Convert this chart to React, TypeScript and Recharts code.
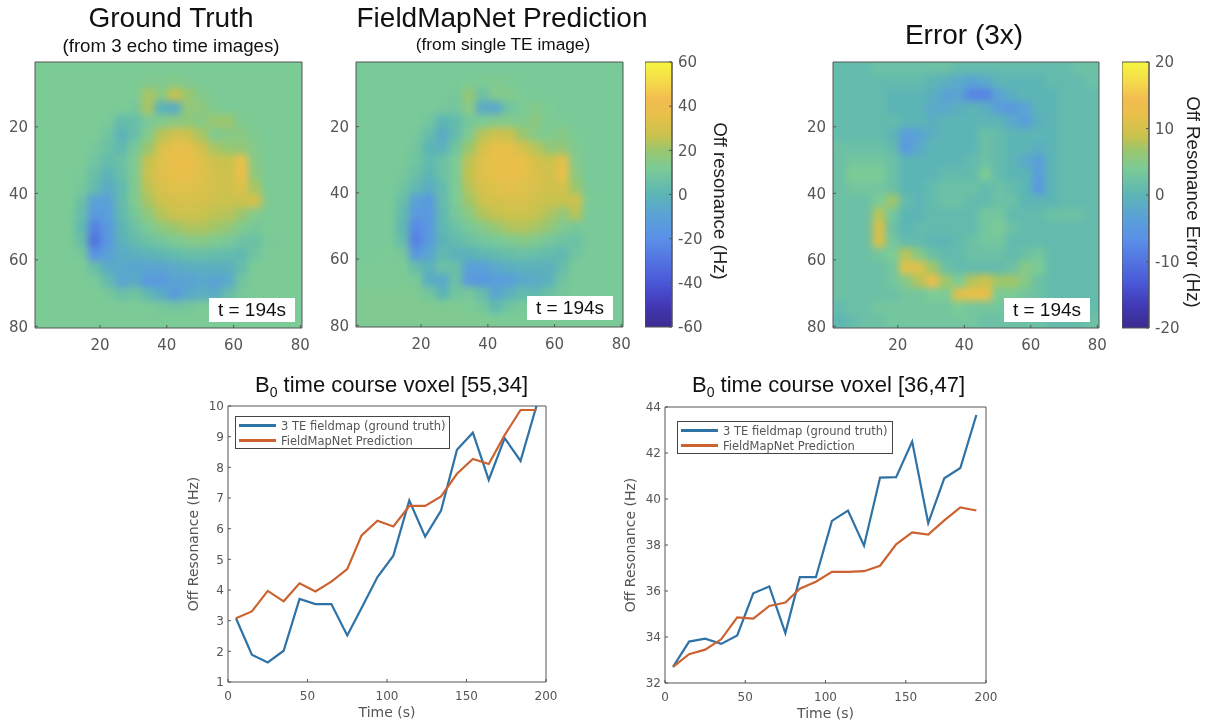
import {
  Bar,
  ComposedChart,
  Legend,
  Line,
  LineChart,
  Scatter,
  ScatterChart,
  XAxis,
  YAxis,
} from "recharts";

const BLUE = "#2f72a6";
const ORANGE = "#cb6230";
const TEXT = "#555555";
const FRAME = "#555555";

// colour scale (position 0..1 bottom to top)
const scalePositions = [0, 0.08, 0.17, 0.33, 0.42, 0.5, 0.6, 0.67, 0.72, 0.8, 0.86, 0.93, 1];
const scaleColors = ["#3a2c8e", "#4238b4", "#4a58d8", "#5a8fe8", "#5aa2d6", "#5cb5b5", "#7ccb96", "#9cc66c", "#c8c24e", "#e8c049", "#f1bc50", "#f5dc4a", "#f6f640"];

const mapTicks = [20, 40, 60, 80];

// 20x20 blocks, 4 voxels each, Hz
const groundTruth = [
  [12, 12, 12, 12, 12, 12, 12, 12, 12, 12, 12, 12, 12, 12, 12, 12, 12, 12, 12, 12],
  [12, 12, 12, 12, 12, 12, 12, 12, 13, 13, 14, 13, 12, 12, 12, 12, 12, 12, 12, 12],
  [12, 12, 12, 12, 12, 12, 12, 12, 22, 16, 26, 20, 14, 12, 12, 12, 12, 12, 12, 12],
  [12, 12, 12, 12, 12, 12, 12, 10, 22, -2, -4, 18, 17, 13, 12, 12, 12, 12, 12, 12],
  [12, 12, 12, 12, 12, 11, 3, 5, 11, 14, 16, 17, 15, 20, 20, 13, 12, 12, 12, 12],
  [12, 12, 12, 12, 12, 8, -1, 5, 14, 24, 29, 28, 22, 13, 15, 16, 13, 12, 12, 12],
  [12, 12, 12, 12, 10, 6, 2, 10, 20, 31, 36, 35, 29, 22, 19, 18, 14, 12, 12, 12],
  [12, 12, 12, 12, 8, 3, 6, 13, 26, 33, 37, 37, 33, 28, 27, 36, 15, 12, 12, 12],
  [12, 12, 12, 11, 5, -1, 5, 13, 27, 33, 36, 37, 33, 29, 28, 38, 17, 12, 12, 12],
  [12, 12, 12, 10, 3, -5, 2, 13, 25, 31, 33, 33, 32, 29, 28, 32, 22, 12, 12, 12],
  [12, 12, 12, 6, -10, -10, 3, 13, 22, 28, 30, 31, 30, 28, 27, 27, 30, 13, 12, 12],
  [12, 12, 12, 4, -15, -12, 2, 10, 17, 24, 27, 28, 27, 25, 24, 20, 14, 12, 12, 12],
  [12, 12, 12, 2, -25, -15, 0, 6, 12, 17, 20, 23, 23, 21, 18, 13, 10, 12, 12, 12],
  [12, 12, 12, 5, -30, -15, -2, 3, 6, 9, 12, 14, 15, 13, 11, 7, 6, 11, 12, 12],
  [12, 12, 12, 10, -18, -10, -5, -3, -1, 1, 3, 5, 5, 4, 3, 2, 8, 12, 12, 12],
  [12, 12, 12, 12, 5, -5, -6, -8, -8, -8, -6, -4, -3, -3, -3, 4, 12, 12, 12, 12],
  [12, 12, 12, 12, 11, 3, -8, -5, -15, -14, -9, -9, -7, -9, -6, 8, 12, 12, 12, 12],
  [12, 12, 12, 12, 12, 10, 6, 8, 2, -5, -14, -6, -3, -5, 4, 10, 12, 12, 12, 12],
  [12, 12, 12, 12, 12, 12, 12, 12, 12, 10, 9, 10, 12, 12, 12, 12, 12, 12, 12, 12],
  [12, 12, 12, 12, 12, 12, 12, 12, 12, 12, 12, 12, 12, 12, 12, 12, 12, 12, 12, 12],
];

const prediction = [
  [11, 11, 11, 11, 11, 11, 11, 11, 11, 11, 11, 11, 11, 11, 11, 11, 11, 11, 11, 11],
  [11, 11, 11, 11, 11, 11, 11, 11, 12, 12, 13, 12, 11, 11, 11, 11, 11, 11, 11, 11],
  [11, 11, 11, 11, 11, 11, 11, 10, 18, 6, 14, 14, 12, 11, 11, 11, 11, 11, 11, 11],
  [11, 11, 11, 11, 11, 11, 10, 9, 16, -5, -6, 8, 12, 14, 12, 11, 11, 11, 11, 11],
  [11, 11, 11, 11, 11, 9, 0, 3, 10, 12, 14, 14, 13, 16, 12, 12, 11, 11, 11, 11],
  [11, 11, 11, 11, 10, 4, -5, 3, 13, 24, 28, 27, 20, 14, 13, 15, 12, 11, 11, 11],
  [11, 11, 11, 11, 9, 0, -2, 8, 20, 30, 36, 35, 30, 24, 18, 18, 13, 11, 11, 11],
  [11, 11, 11, 11, 8, 2, 6, 12, 25, 33, 36, 37, 36, 30, 27, 34, 14, 11, 11, 11],
  [11, 11, 11, 10, 6, 0, 6, 12, 26, 33, 36, 37, 36, 32, 29, 36, 16, 11, 11, 11],
  [11, 11, 11, 8, 2, -4, 3, 12, 24, 31, 33, 34, 33, 31, 28, 30, 20, 11, 11, 11],
  [11, 11, 11, 5, -10, -14, 3, 12, 21, 28, 30, 31, 31, 29, 27, 26, 28, 12, 11, 11],
  [11, 11, 11, 3, -14, -15, 2, 10, 16, 23, 26, 28, 28, 26, 23, 18, 24, 11, 11, 11],
  [11, 11, 11, 1, -22, -15, 1, 6, 11, 15, 19, 23, 24, 22, 18, 13, 10, 11, 11, 11],
  [11, 11, 11, 4, -25, -14, -1, 3, 6, 9, 11, 13, 15, 13, 10, 7, 6, 11, 11, 11],
  [11, 11, 12, 10, -16, -8, 2, -2, -1, 1, 3, 5, 6, 5, 3, 2, 8, 11, 11, 11],
  [12, 12, 12, 12, 4, -2, 6, 5, -10, -10, -6, -3, -2, -2, -2, 4, 11, 11, 11, 11],
  [12, 12, 12, 12, 11, -4, -6, 6, -14, -16, -12, -12, -6, -5, -2, 8, 11, 11, 11, 11],
  [13, 13, 13, 13, 13, 9, 0, 8, 10, 4, -8, -2, 3, 2, 6, 10, 11, 11, 11, 11],
  [13, 13, 13, 13, 13, 13, 13, 13, 12, 9, 2, 8, 11, 12, 12, 12, 12, 12, 11, 11],
  [13, 13, 13, 13, 13, 13, 13, 13, 13, 13, 12, 12, 12, 12, 12, 12, 12, 12, 12, 11],
];

const errorMap = [
  [1, 1, 1, 2, 2, 2, 2, 2, 2, 1, 1, 1, 1, 1, 1, 1, 1, 1, 2, 2],
  [1, 1, 1, 1, 1, 1, 1, 0, -1, -2, -3, -2, 0, 0, 0, 0, 1, 1, 1, 2],
  [1, 1, 1, 1, 0, 0, 0, -1, -3, -3, -8, -8, -3, -1, 0, 0, 0, 1, 1, 1],
  [1, 1, 1, 1, 0, 0, 0, -2, -2, -1, 0, -1, -4, -5, -3, 0, 0, 1, 1, 1],
  [1, 1, 1, 1, 1, 0, 0, -1, 0, 0, 0, 0, 0, -2, -4, -1, 0, 1, 1, 1],
  [1, 1, 1, 1, 0, -4, -3, -1, 0, 0, 0, 2, 1, 0, 0, 0, 0, 1, 1, 1],
  [2, 2, 2, 2, 1, -5, -2, 0, 0, 0, 0, 2, 1, 0, 0, -1, 0, 1, 1, 1],
  [2, 3, 3, 3, 2, 0, 0, 0, 0, 0, 1, 2, 1, 0, -2, -4, 0, 1, 1, 1],
  [2, 4, 4, 4, 2, 0, 0, 0, 1, 1, 1, 4, 1, 0, 0, -4, 0, 1, 1, 1],
  [2, 3, 3, 3, 2, 0, 0, 1, 2, 2, 2, 1, 2, 1, 0, -5, 0, 1, 1, 1],
  [2, 2, 2, 4, 7, 1, 0, 1, 2, 2, 1, 1, 2, 2, 0, 0, 0, 1, 1, 1],
  [2, 2, 2, 8, 3, 0, 0, 1, 1, 1, 1, 3, 3, 1, 1, 1, 2, 2, 2, 1],
  [2, 2, 2, 10, 2, 0, 1, 1, 1, 1, 1, 3, 4, 2, 1, 1, 1, 1, 1, 1],
  [2, 2, 2, 10, 3, 1, 1, 0, 0, 1, 2, 3, 3, 1, 1, 1, 1, 1, 1, 1],
  [2, 2, 2, 3, 4, 8, 5, 2, 1, 1, 2, 2, 2, 1, 2, 3, 1, 1, 1, 1],
  [2, 2, 2, 2, 3, 11, 11, 7, 2, 1, 1, 1, 1, 2, 5, 4, 1, 1, 1, 1],
  [2, 2, 2, 2, 3, 5, 8, 13, 7, 4, 8, 9, 7, 7, 5, 2, 1, 1, 1, 1],
  [2, 2, 2, 2, 2, 3, 3, 4, 4, 11, 12, 12, 4, 4, 3, 2, 1, 1, 1, 1],
  [1, 2, 2, 3, 3, 3, 3, 3, 3, 4, 3, 3, 3, 2, 2, 2, 1, 1, 1, 1],
  [0, 1, 2, 2, 3, 3, 3, 3, 3, 3, 3, 2, 2, 2, 2, 2, 1, 1, 1, 2],
];

const timeSeconds = [5, 15, 25, 35, 45, 55, 65, 75, 84, 94, 104, 114, 124, 134, 144, 154, 164, 174, 184, 194];
const voxelA_truth = [3.08, 1.89, 1.64, 2.02, 3.71, 3.54, 3.54, 2.52, 3.41, 4.42, 5.12, 6.92, 5.74, 6.59, 8.57, 9.13, 7.59, 8.95, 8.21, 10];
const voxelA_pred = [3.08, 3.3, 3.97, 3.63, 4.22, 3.95, 4.27, 4.68, 5.78, 6.26, 6.07, 6.74, 6.74, 7.05, 7.79, 8.27, 8.11, 9.05, 9.87, 9.87];
const voxelB_truth = [32.7, 33.8, 33.93, 33.7, 34.07, 35.9, 36.2, 34.17, 36.6, 36.6, 39.05, 39.5, 37.97, 40.93, 40.95, 42.5, 38.95, 40.9, 41.35, 43.65];
const voxelB_pred = [32.7, 33.25, 33.45, 33.9, 34.85, 34.8, 35.35, 35.5, 36.1, 36.4, 36.83, 36.83, 36.86, 37.1, 38.03, 38.55, 38.45, 39.07, 39.63, 39.5];

const voxelATicks = [1, 2, 3, 4, 5, 6, 7, 8, 9, 10];
const voxelBTicks = [32, 34, 36, 38, 40, 42, 44];
const timeTicks = [0, 50, 100, 150, 200];

function hex(c: string) {
  return [1, 3, 5].map((i) => parseInt(c.slice(i, i + 2), 16));
}

function colorAt(t: number) {
  const p = Math.max(0, Math.min(1, t));
  let i = 0;
  while (i < scalePositions.length - 2 && p > scalePositions[i + 1]) i++;
  const f = (p - scalePositions[i]) / (scalePositions[i + 1] - scalePositions[i]);
  const a = hex(scaleColors[i]);
  const b = hex(scaleColors[i + 1]);
  return `rgb(${a.map((v, k) => Math.round(v + (b[k] - v) * f)).join(",")})`;
}

function HeatMap({ x, y, w, h, values, limit, label }: any) {
  const cells = values.flatMap((row: number[], r: number) =>
    row.map((v, c) => ({ col: c * 4 + 2.5, row: r * 4 + 2.5, v }))
  );
  const cw = (w / 80) * 4 + 1;
  const ch = (h / 80) * 4 + 1;
  const background = colorAt((values[0][19] + limit) / (2 * limit));
  return (
    <>
      <div style={{ position: "absolute", left: x, top: y, width: w, height: h, overflow: "hidden", background }}>
        <div style={{ filter: "blur(3.5px)" }}>
          <ScatterChart width={w} height={h} margin={{ top: 0, right: 0, bottom: 0, left: 0 }}>
            <XAxis hide type="number" dataKey="col" domain={[0.5, 80.5]} />
            <YAxis hide type="number" dataKey="row" domain={[0.5, 80.5]} reversed />
            <Scatter
              data={cells}
              isAnimationActive={false}
              shape={(p: any) => (
                <rect
                  x={p.cx - cw / 2}
                  y={p.cy - ch / 2}
                  width={cw}
                  height={ch}
                  fill={colorAt((p.payload.v + limit) / (2 * limit))}
                />
              )}
            />
          </ScatterChart>
        </div>
      </div>
      <div style={{ position: "absolute", left: x - 36, top: y - 10 }}>
        <ScatterChart width={w + 36 + 20} height={h + 10 + 28} margin={{ top: 9, right: 19, bottom: 0, left: 0 }}>
          <XAxis type="number" dataKey="col" domain={[0.5, 80.5]} ticks={mapTicks} height={28} interval={0} stroke={FRAME} tickSize={-3} tickMargin={14} tick={{ fontSize: 15, fill: TEXT, fontFamily: "DejaVu Sans" }} />
          <XAxis xAxisId="top" orientation="top" type="number" dataKey="col" domain={[0.5, 80.5]} ticks={mapTicks} height={1} stroke={FRAME} tickSize={-3} tick={false} />
          <YAxis type="number" dataKey="row" domain={[0.5, 80.5]} reversed ticks={mapTicks} width={36} interval={0} stroke={FRAME} tickSize={-3} tickMargin={10} tick={{ fontSize: 15, fill: TEXT, fontFamily: "DejaVu Sans" }} />
          <YAxis yAxisId="right" orientation="right" type="number" dataKey="row" domain={[0.5, 80.5]} reversed ticks={mapTicks} width={1} stroke={FRAME} tickSize={-3} tick={false} />
          <Scatter data={cells} isAnimationActive={false} shape={() => <g />} />
          <Scatter xAxisId="top" yAxisId="right" data={cells} isAnimationActive={false} shape={() => <g />} />
        </ScatterChart>
      </div>
      <div style={{ position: "absolute", left: label.x, top: label.y, width: 86, height: 24, background: "#fff", color: "#111", fontFamily: "Liberation Sans", fontSize: 19, lineHeight: "24px", textAlign: "center" }}>
        t = 194s
      </div>
    </>
  );
}

function ColorBar({ x, y, w, h, limit, ticks, id, title, titleX, titleShift }: any) {
  return (
    <>
      <div style={{ position: "absolute", left: x, top: y - 10 }}>
        <ComposedChart width={w + 40} height={h + 20} data={[{ name: "scale", range: [-limit, limit] }]} barCategoryGap={0} margin={{ top: 10, right: 0, bottom: 10, left: 0 }}>
          <defs>
            <linearGradient id={id} x1="0" y1="1" x2="0" y2="0">
              {scalePositions.map((t, i) => (
                <stop key={t} offset={t} stopColor={scaleColors[i]} />
              ))}
            </linearGradient>
          </defs>
          <XAxis hide dataKey="name" />
          <YAxis orientation="right" type="number" domain={[-limit, limit]} ticks={ticks} interval={0} width={40} stroke={FRAME} tickSize={-3} tickMargin={9} tick={{ fontSize: 15, fill: TEXT, fontFamily: "DejaVu Sans" }} />
          <Bar dataKey="range" fill={`url(#${id})`} stroke={FRAME} isAnimationActive={false} />
        </ComposedChart>
      </div>
      <div style={{ position: "absolute", left: titleX, top: y + h / 2 + titleShift, transform: "translate(-50%, -50%) rotate(90deg)", whiteSpace: "nowrap", fontFamily: "Liberation Sans", fontSize: 18.7, color: "#222" }}>
        {title}
      </div>
    </>
  );
}

function CourseLegend({ payload, width }: any) {
  const items = (payload || []).filter((item: any) => item.type !== "none");
  return (
    <div style={{ width, height: 33, boxSizing: "border-box", border: "1px solid #444", background: "#fff", padding: "1px 0 0 3px" }}>
      {items.map((item: any) => (
        <div key={item.value} style={{ display: "flex", alignItems: "center", height: 15, fontSize: 11.5, lineHeight: "14px", color: "#555", fontFamily: "DejaVu Sans", whiteSpace: "nowrap" }}>
          <span style={{ display: "inline-block", width: 37, height: 2.4, background: item.color, marginRight: 5 }} />
          {item.value}
        </div>
      ))}
    </div>
  );
}

function TimeCourse({ x, y, w, h, truth, pred, domain, ticks, title, titleX, legend }: any) {
  const data = timeSeconds.map((t, i) => ({ t, truth: truth[i], pred: pred[i] }));
  const axisTick = { fontSize: 12, fill: TEXT, fontFamily: "DejaVu Sans" };
  return (
    <>
      <div style={{ position: "absolute", left: titleX, top: 373, whiteSpace: "nowrap", fontFamily: "Liberation Sans", fontSize: 22, lineHeight: "24px", color: "#111" }}>
        B<sub style={{ fontSize: 14, lineHeight: 0 }}>0</sub> time course voxel {title}
      </div>
      <div style={{ position: "absolute", left: x - 48, top: y - 10 }}>
        <LineChart width={w + 48 + 20} height={h + 10 + 42} data={data} margin={{ top: 9, right: 19, bottom: 0, left: 0 }}>
          <XAxis
            dataKey="t"
            type="number"
            domain={[0, 200]}
            ticks={timeTicks}
            interval={0}
            height={42}
            stroke={FRAME}
            tickSize={-3}
            tickMargin={12}
            tick={axisTick}
            label={{ value: "Time (s)", position: "insideBottom", offset: 7, fontSize: 14, fill: TEXT, fontFamily: "DejaVu Sans" }}
          />
          <XAxis xAxisId="top" orientation="top" type="number" dataKey="t" domain={[0, 200]} ticks={timeTicks} height={1} stroke={FRAME} tickSize={-3} tick={false} />
          <YAxis
            type="number"
            domain={domain}
            ticks={ticks}
            interval={0}
            width={48}
            stroke={FRAME}
            tickSize={-3}
            tickMargin={7}
            tick={axisTick}
            label={{ value: "Off Resonance (Hz)", angle: -90, position: "insideLeft", offset: 13, style: { textAnchor: "middle" }, fontSize: 14, fill: TEXT, fontFamily: "DejaVu Sans" }}
          />
          <YAxis yAxisId="right" orientation="right" type="number" domain={domain} ticks={ticks} width={1} stroke={FRAME} tickSize={-3} tick={false} />
          <Legend
            layout="horizontal"
            align="center"
            verticalAlign="middle"
            wrapperStyle={{ left: legend.x - x + 48, top: legend.y - y + 10, width: legend.w }}
            content={(props: any) => <CourseLegend {...props} width={legend.w} />}
          />
          <Line dataKey="truth" name="3 TE fieldmap (ground truth)" stroke={BLUE} strokeWidth={2.2} dot={false} isAnimationActive={false} />
          <Line dataKey="pred" name="FieldMapNet Prediction" stroke={ORANGE} strokeWidth={2.2} dot={false} isAnimationActive={false} />
          <Line xAxisId="top" yAxisId="right" dataKey="pred" legendType="none" stroke="none" dot={false} isAnimationActive={false} />
        </LineChart>
      </div>
    </>
  );
}

function Heading({ center, top, size, children }: any) {
  return (
    <div style={{ position: "absolute", left: center, top, transform: "translateX(-50%)", whiteSpace: "nowrap", fontFamily: "Liberation Sans", fontSize: size, lineHeight: 1.15, color: "#111" }}>
      {children}
    </div>
  );
}

export default function App() {
  return (
    <div style={{ position: "absolute", left: 0, top: 0, width: 1211, height: 726, overflow: "hidden", background: "#fff", filter: "blur(0.45px)" }}>
      <Heading center={171} top={2} size={28}>Ground Truth</Heading>
      <Heading center={171} top={35} size={18.7}>(from 3 echo time images)</Heading>
      <Heading center={502} top={2} size={28}>FieldMapNet Prediction</Heading>
      <Heading center={503} top={35} size={17.3}>(from single TE image)</Heading>
      <Heading center={964} top={19} size={28}>Error (3x)</Heading>

      <HeatMap x={35} y={62} w={267} h={266} values={groundTruth} limit={60} label={{ x: 209, y: 298 }} />
      <HeatMap x={356} y={62} w={267} h={265} values={prediction} limit={60} label={{ x: 527, y: 296 }} />
      <HeatMap x={833} y={62} w={266} h={266} values={errorMap} limit={20} label={{ x: 1004, y: 298 }} />

      <ColorBar x={645} y={62} w={27} h={265} limit={60} ticks={[-60, -40, -20, 0, 20, 40, 60]} id="barA" title="Off resonance (Hz)" titleX={720} titleShift={6} />
      <ColorBar x={1122} y={62} w={27} h={266} limit={20} ticks={[-20, -10, 0, 10, 20]} id="barB" title="Off Resonance Error (Hz)" titleX={1193} titleShift={7} />

      <TimeCourse x={228} y={406} w={318} h={276} truth={voxelA_truth} pred={voxelA_pred} domain={[1, 10]} ticks={voxelATicks} title="[55,34]" titleX={255} legend={{ x: 235, y: 416, w: 215 }} />
      <TimeCourse x={665} y={407} w={321} h={276} truth={voxelB_truth} pred={voxelB_pred} domain={[32, 44]} ticks={voxelBTicks} title="[36,47]" titleX={692} legend={{ x: 677, y: 421, w: 216 }} />
    </div>
  );
}
